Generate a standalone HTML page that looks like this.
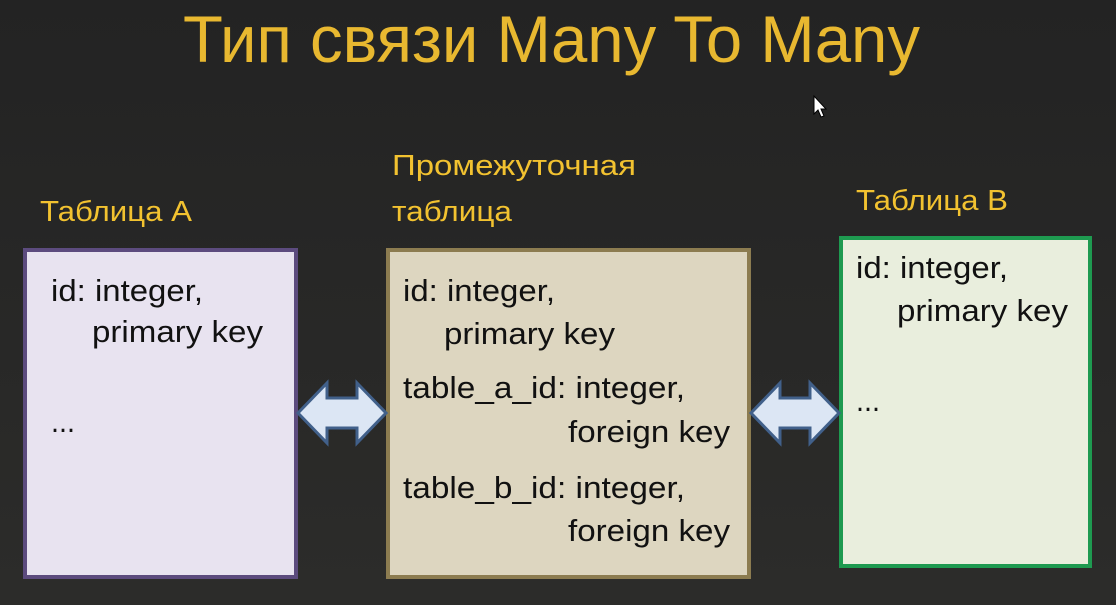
<!DOCTYPE html>
<html><head><meta charset="utf-8"><style>
html,body{margin:0;padding:0;background:#2a2a28;}
svg{display:block}
text{font-family:"Liberation Sans","DejaVu Sans",sans-serif;}
</style></head><body>
<svg width="1116" height="605" viewBox="0 0 1116 605" xmlns="http://www.w3.org/2000/svg">
<defs><linearGradient id="bg" x1="0" y1="0" x2="0" y2="1"><stop offset="0" stop-color="#232323"/><stop offset="1" stop-color="#2c2c2a"/></linearGradient></defs>
<rect width="1116" height="605" fill="url(#bg)"/>
<text x="183" y="62" font-size="66" fill="#e8b830" textLength="737" lengthAdjust="spacingAndGlyphs">Тип связи Many To Many</text>
<path d="M814 96 L814 114 L818 110 L821 117 L824 116 L821 109 L826 109 Z" fill="#fff" stroke="#000" stroke-width="1"/>
<g fill="#f2c230" font-size="29">
<text x="40" y="221" textLength="152" lengthAdjust="spacingAndGlyphs">Таблица А</text>
<text x="392" y="175" textLength="244" lengthAdjust="spacingAndGlyphs">Промежуточная</text>
<text x="392" y="221" textLength="120" lengthAdjust="spacingAndGlyphs">таблица</text>
<text x="856" y="210" textLength="152" lengthAdjust="spacingAndGlyphs">Таблица В</text>
</g>
<rect x="25" y="250" width="271" height="327" fill="#e8e3f0" stroke="#5c4b7e" stroke-width="4"/>
<rect x="388" y="250" width="361" height="327" fill="#ddd6c0" stroke="#8c7c50" stroke-width="4"/>
<rect x="841" y="238" width="249" height="328" fill="#e9eedd" stroke="#1e9a50" stroke-width="4"/>
<g fill="#dce6f4" stroke="#41608a" stroke-width="3" stroke-linejoin="miter">
<path d="M298 413 L327 383 L327 398 L357 398 L357 383 L386 413 L357 443 L357 428 L327 428 L327 443 Z"/>
<path d="M751 413 L780 383 L780 398 L810 398 L810 383 L839 413 L810 443 L810 428 L780 428 L780 443 Z"/>
</g>
<g fill="#111" font-size="31">
<text x="51" y="301" textLength="152" lengthAdjust="spacingAndGlyphs">id: integer,</text>
<text x="92" y="342" textLength="171" lengthAdjust="spacingAndGlyphs">primary key</text>
<text x="51" y="432" textLength="24" lengthAdjust="spacingAndGlyphs">...</text>
<text x="403" y="301" textLength="152" lengthAdjust="spacingAndGlyphs">id: integer,</text>
<text x="444" y="344" textLength="171" lengthAdjust="spacingAndGlyphs">primary key</text>
<text x="403" y="398" textLength="282" lengthAdjust="spacingAndGlyphs">table_a_id: integer,</text>
<text x="568" y="442" textLength="162" lengthAdjust="spacingAndGlyphs">foreign key</text>
<text x="403" y="498" textLength="282" lengthAdjust="spacingAndGlyphs">table_b_id: integer,</text>
<text x="568" y="541" textLength="162" lengthAdjust="spacingAndGlyphs">foreign key</text>
<text x="856" y="278" textLength="152" lengthAdjust="spacingAndGlyphs">id: integer,</text>
<text x="897" y="321" textLength="171" lengthAdjust="spacingAndGlyphs">primary key</text>
<text x="856" y="411" textLength="24" lengthAdjust="spacingAndGlyphs">...</text>
</g>
</svg>
</body></html>
